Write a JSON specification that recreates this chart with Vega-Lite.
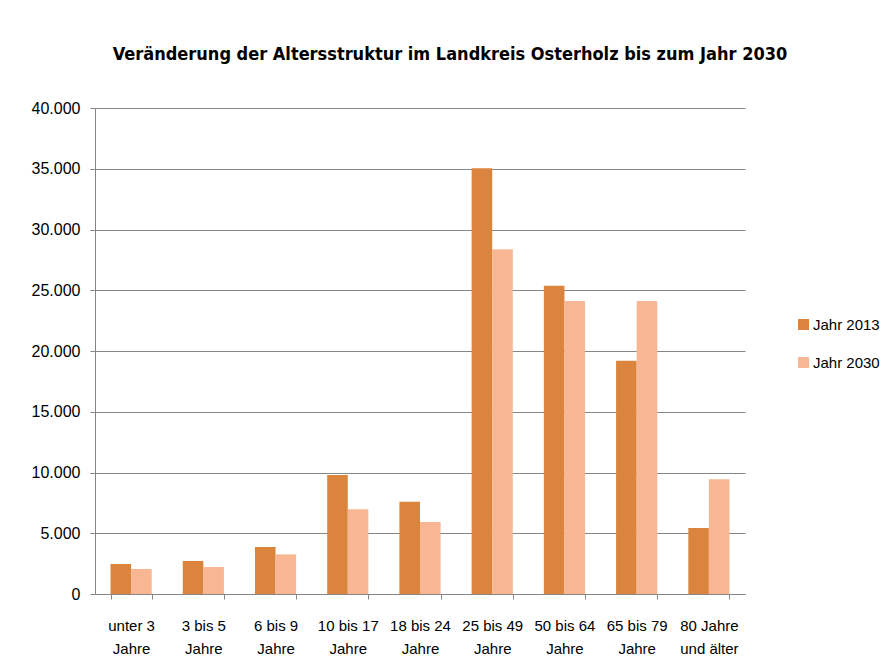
{
  "$schema": "https://vega.github.io/schema/vega-lite/v6.json",
  "width": 650,
  "height": 486,
  "autosize": {"type": "none"},
  "padding": {"left": 95, "top": 108, "right": 137, "bottom": 76},
  "background": "white",
  "config": {
    "locale": {"number": {"decimal": ",", "thousands": ".", "grouping": [3], "currency": ["", " €"]}},
    "view": {"stroke": null},
    "font": "Liberation Sans"
  },
  "title": {
    "text": "Veränderung der Altersstruktur im Landkreis Osterholz bis zum Jahr 2030",
    "font": "DejaVu Sans Condensed, Roboto, sans-serif",
    "fontSize": 18,
    "fontWeight": "bold",
    "color": "#000000",
    "anchor": "middle",
    "dx": 30,
    "offset": 36
  },
  "data": {
    "values": [
      {"Gruppe": "unter 3\nJahre", "Jahr": "Jahr 2013", "Wert": 2470},
      {"Gruppe": "unter 3\nJahre", "Jahr": "Jahr 2030", "Wert": 2060},
      {"Gruppe": "3 bis 5\nJahre", "Jahr": "Jahr 2013", "Wert": 2720},
      {"Gruppe": "3 bis 5\nJahre", "Jahr": "Jahr 2030", "Wert": 2220},
      {"Gruppe": "6 bis 9\nJahre", "Jahr": "Jahr 2013", "Wert": 3870},
      {"Gruppe": "6 bis 9\nJahre", "Jahr": "Jahr 2030", "Wert": 3260},
      {"Gruppe": "10 bis 17\nJahre", "Jahr": "Jahr 2013", "Wert": 9790},
      {"Gruppe": "10 bis 17\nJahre", "Jahr": "Jahr 2030", "Wert": 6970},
      {"Gruppe": "18 bis 24\nJahre", "Jahr": "Jahr 2013", "Wert": 7600},
      {"Gruppe": "18 bis 24\nJahre", "Jahr": "Jahr 2030", "Wert": 5930},
      {"Gruppe": "25 bis 49\nJahre", "Jahr": "Jahr 2013", "Wert": 35050},
      {"Gruppe": "25 bis 49\nJahre", "Jahr": "Jahr 2030", "Wert": 28370},
      {"Gruppe": "50 bis 64\nJahre", "Jahr": "Jahr 2013", "Wert": 25370},
      {"Gruppe": "50 bis 64\nJahre", "Jahr": "Jahr 2030", "Wert": 24110},
      {"Gruppe": "65 bis 79\nJahre", "Jahr": "Jahr 2013", "Wert": 19200},
      {"Gruppe": "65 bis 79\nJahre", "Jahr": "Jahr 2030", "Wert": 24110},
      {"Gruppe": "80 Jahre\nund älter", "Jahr": "Jahr 2013", "Wert": 5430},
      {"Gruppe": "80 Jahre\nund älter", "Jahr": "Jahr 2030", "Wert": 9440}
    ]
  },
  "mark": {"type": "bar"},
  "encoding": {
    "x": {
      "field": "Gruppe",
      "type": "nominal",
      "sort": null,
      "scale": {"paddingInner": 0.43, "paddingOuter": 0.215},
      "axis": {
        "title": null,
        "labelAngle": 0,
        "labelExpr": "split(datum.label, '\\n')",
        "labelFont": "Liberation Sans",
        "labelFontSize": 15,
        "labelColor": "#000000",
        "labelLineHeight": 23,
        "labelPadding": 19,
        "labelBaseline": "top",
        "tickBand": "extent",
        "tickSize": 5,
        "tickColor": "#868686",
        "domainColor": "#868686",
        "domainWidth": 1,
        "grid": false
      }
    },
    "xOffset": {"field": "Jahr", "type": "nominal", "scale": {"paddingInner": 0, "paddingOuter": 0}},
    "y": {
      "field": "Wert",
      "type": "quantitative",
      "scale": {"domain": [0, 40000], "nice": false},
      "axis": {
        "title": null,
        "values": [0, 5000, 10000, 15000, 20000, 25000, 30000, 35000, 40000],
        "format": ",d",
        "labelFont": "Liberation Sans",
        "labelFontSize": 16,
        "labelColor": "#000000",
        "labelPadding": 10,
        "tickSize": 5,
        "tickColor": "#868686",
        "domainColor": "#868686",
        "gridColor": "#868686",
        "gridWidth": 1
      }
    },
    "color": {
      "field": "Jahr",
      "type": "nominal",
      "scale": {"domain": ["Jahr 2013", "Jahr 2030"], "range": ["#DB843D", "#F8B692"]},
      "legend": {
        "title": null,
        "orient": "none",
        "legendX": 701,
        "legendY": 209,
        "symbolType": "square",
        "symbolSize": 121,
        "symbolStrokeWidth": 0,
        "labelFont": "Liberation Sans",
        "labelFontSize": 15,
        "labelColor": "#000000",
        "labelOffset": 2,
        "rowPadding": 22
      }
    }
  }
}
